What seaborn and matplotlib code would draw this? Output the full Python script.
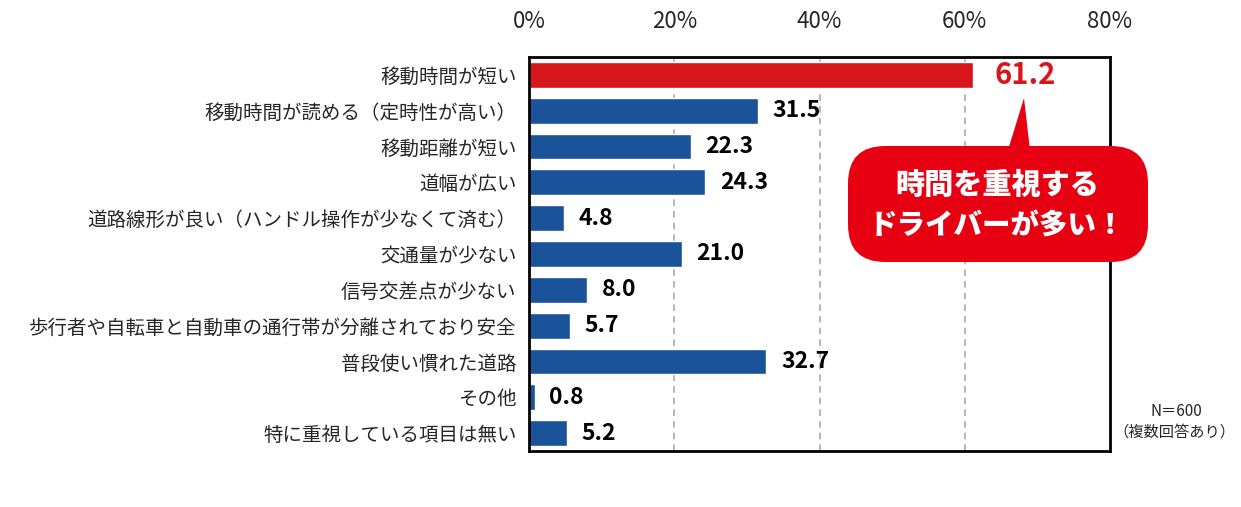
import matplotlib
matplotlib.use('Agg')
import matplotlib.pyplot as plt
import seaborn as sns
import pandas as pd
from matplotlib.patches import FancyBboxPatch, Polygon

categories = ['移動時間が短い', '移動時間が読める（定時性が高い）', '移動距離が短い', '道幅が広い',
              '道路線形が良い（ハンドル操作が少なくて済む）', '交通量が少ない', '信号交差点が少ない',
              '歩行者や自転車と自動車の通行帯が分離されており安全', '普段使い慣れた道路', 'その他',
              '特に重視している項目は無い']
values = [61.2, 31.5, 22.3, 24.3, 4.8, 21.0, 8.0, 5.7, 32.7, 0.8, 5.2]
ticks = [0, 20, 40, 60, 80]
tick_labels = ['0%', '20%', '40%', '60%', '80%']

sns.set_style('white')
plt.rcParams['font.family'] = ['Noto Sans CJK JP', 'DejaVu Sans']

RED = '#D7161B'
BLUE = '#1B539B'
colors = [RED] + [BLUE] * (len(categories) - 1)

df = pd.DataFrame({'cat': categories, 'val': values})

fig = plt.figure(figsize=(12.41, 5.07), dpi=100)
W, H = 1241, 507
ax = fig.add_axes([529 / W, 1 - 451 / H, (1110 - 529) / W, (451 - 57) / H])

sns.barplot(data=df, x='val', y='cat', hue='cat', palette=colors, legend=False,
            width=0.72, saturation=1, ax=ax, zorder=3)

ax.set_xlim(0, 80)
ax.set_ylim(len(categories) - 0.5, -0.5)
ax.xaxis.tick_top()
ax.set_xticks(ticks)
ax.set_xticklabels(tick_labels, fontsize=16)
ax.tick_params(axis='x', length=0, pad=17)
ax.tick_params(axis='y', length=0, pad=9, labelsize=14)
ax.set_xlabel('')
ax.set_ylabel('')
for t in ticks[1:-1]:
    ax.axvline(t, color='#AAAAAA', linestyle=(0, (4, 3)), linewidth=1.2, zorder=1)
for s in ax.spines.values():
    s.set_color('black')
    s.set_linewidth(2)
    s.set_zorder(5)

for i, v in enumerate(values):
    if i == 0:
        ax.text(v + 2.9, i, f'{v:.1f}', va='center', ha='left', fontsize=21, fontweight='bold',
                color=RED)
    else:
        ax.text(v + 2.0, i, f'{v:.1f}', va='center', ha='left', fontsize=16.5, fontweight='bold',
                color='black')

# callout
def fx(x):
    return x / W

def fy(y):
    return 1 - y / H

box = FancyBboxPatch((fx(848), fy(262)), fx(1148) - fx(848), fy(146) - fy(262),
                     boxstyle='round,pad=0,rounding_size=0.03', transform=fig.transFigure,
                     facecolor='#E60012', edgecolor='none', zorder=10, mutation_aspect=W / H)
fig.patches.append(box)
tri = Polygon([(fx(1008), fy(150)), (fx(1030), fy(150)), (fx(1024), fy(98))],
              closed=True, transform=fig.transFigure, facecolor='#E60012', edgecolor='none', zorder=10)
fig.patches.append(tri)
fig.text(fx(997), fy(185), '時間を重視する', color='white', fontsize=21, fontweight='black',
         ha='center', va='center', zorder=11)
fig.text(fx(997), fy(226), 'ドライバーが多い！', color='white', fontsize=20.5, fontweight='black',
         ha='center', va='center', zorder=11)

fig.text(fx(1176), fy(411), 'N＝600', fontsize=11, ha='center', va='center')
fig.text(fx(1174), fy(432), '（複数回答あり）', fontsize=11, ha='center', va='center')

fig.savefig('out.png', dpi=100)
